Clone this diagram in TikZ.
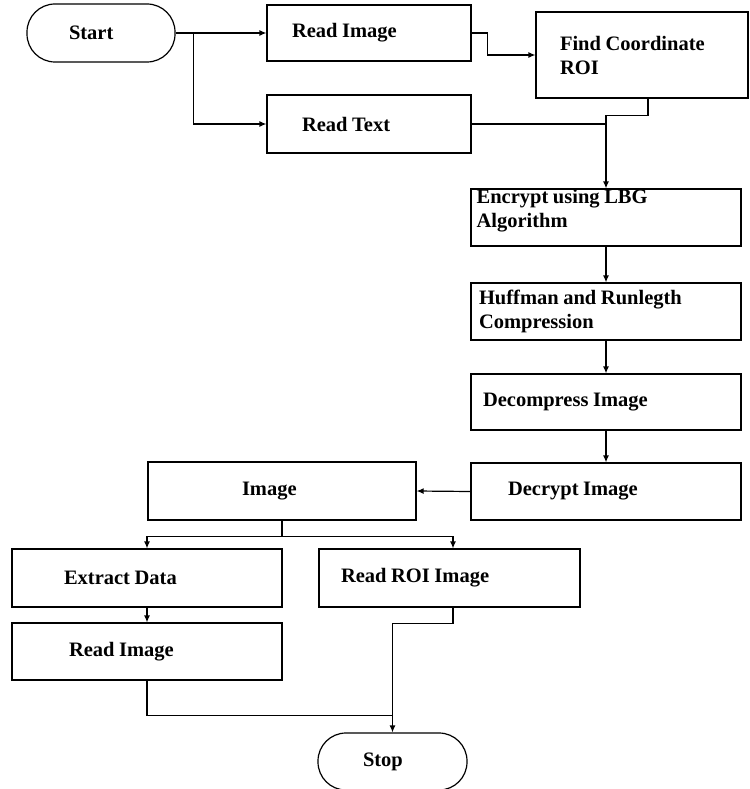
\documentclass[tikz,border=0pt]{standalone}
\usepackage{fontspec}
\setmainfont{Liberation Serif}[WordSpace=0.9]
\usetikzlibrary{arrows.meta}
\begin{document}
\begin{tikzpicture}[x=1pt,y=-1pt,
  every node/.style={font=\fontsize{20.5}{24}\selectfont\bfseries},
  box/.style={draw, line width=1.2pt, rectangle, align=flush left, inner ysep=2pt},
  term/.style={box, rounded corners=28pt},
  arr/.style={line width=1.2pt, -{Latex[length=7pt,width=6pt]}},
  ln/.style={line width=1.2pt}]
\useasboundingbox (0,0) rectangle (749,789);

% top row
\node[term, minimum width=148pt, minimum height=58pt, inner xsep=42pt, text width=64pt] (start) at (101,33) {Start};
\node[box, minimum width=204pt, minimum height=56pt, inner xsep=25pt, text width=154pt] (rimg) at (369,33) {Read Image};
\node[box, minimum width=204pt, minimum height=58pt, inner xsep=35pt, text width=134pt] (rtxt) at (369,124) {Read Text};
\node[box, minimum width=212pt, minimum height=86pt, inner xsep=24pt, text width=164pt] (findroi) at (642,55) {Find Coordinate\\ROI};

% main column; the first box has its text pushed against the top edge
\node[box, minimum width=270pt, minimum height=57pt,
  label={[anchor=north west, inner sep=0pt, align=flush left, xshift=6pt, yshift=-0.5pt]north west:{Encrypt using LBG\\Algorithm}}]
  (enc) at (606,217.5) {};
\node[box, minimum width=270pt, minimum height=57pt, inner xsep=8pt, text width=254pt] (huff) at (606,311.5) {Huffman and Runlegth\\Compression};
\node[box, minimum width=270pt, minimum height=56pt, inner xsep=12pt, text width=246pt] (decomp) at (606,402) {Decompress Image};
\node[box, minimum width=270pt, minimum height=57pt, inner xsep=37pt, text width=196pt] (decr) at (606,491.5) {Decrypt Image};

% lower part
\node[box, minimum width=268pt, minimum height=58pt, inner xsep=94pt, text width=80pt] (img) at (282,491) {Image};
\node[box, minimum width=270pt, minimum height=58pt, inner xsep=52pt, text width=166pt] (extr) at (147,578) {Extract Data};
\node[box, minimum width=261pt, minimum height=58pt, inner xsep=22pt, text width=217pt] (roi) at (449.5,578) {Read ROI Image};
\node[box, minimum width=270pt, minimum height=57pt, inner xsep=57pt, text width=156pt] (rimg2) at (147,651.5) {Read Image};
\node[term, minimum width=149pt, minimum height=57pt, inner xsep=45pt, text width=59pt] (stop) at (392.5,761.5) {Stop};

% connectors
\draw[arr] (start.east) -- (rimg.west);
\draw[arr] ([xshift=18pt]start.east) |- (rtxt.west);
\draw[arr] (rimg.east) -- ++(16,0) |- (findroi.west);
\draw[arr] ([xshift=6pt]findroi.south) -- ++(0,17) -| (enc.north);
\draw[ln] (rtxt.east) -- (rtxt.east -| enc.north);
\draw[arr] (enc.south) -- (huff.north);
\draw[arr] (huff.south) -- (decomp.north);
\draw[arr] (decomp.south) -- (decr.north);
\draw[arr] (decr.west) -- (img.east);
\draw[arr] (img.south) -- ++(0,16) -| (extr.north);
\draw[arr] (img.south) -- ++(0,16) -| ([xshift=3.5pt]roi.north);
\draw[arr] (extr.south) -- (rimg2.north);
\coordinate (join) at ([yshift=17pt]stop.north);
\draw[arr] ([xshift=3.5pt]roi.south) -- ++(0,16) -| (stop.north);
\draw[ln] (rimg2.south) |- (join);
\end{tikzpicture}
\end{document}
